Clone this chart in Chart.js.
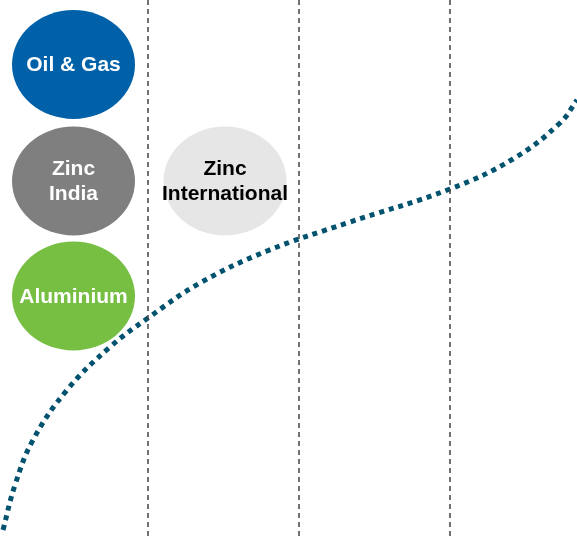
<!DOCTYPE html>
<html lang="en">
<head>
  <meta charset="UTF-8" />
  <title>Portfolio curve</title>
  <script src="https://cdn.jsdelivr.net/npm/chart.js"></script>
  <style>
    html, body { margin: 0; padding: 0; background: #fff; }
    .wrap { width: 577px; height: 537px; }
  </style>
</head>
<body>
<div class="wrap"><canvas id="chart"></canvas></div>
<script>
// curve points (x along the plot, y measured from top)
const curveX = [3, 15, 33, 67, 110, 148, 200, 267, 347, 450, 513, 560, 577];
const curveY = [530, 485, 440, 390, 347, 318, 283, 251, 223, 189, 159, 123, 100];

// dashed dividers
const dividerX = [148, 299, 450];

// bubbles
const bubbleLabels = [["Oil & Gas"], ["Zinc", "India"], ["Aluminium"], ["Zinc", "International"]];
const bubbleX = [73.5, 73.5, 73.5, 225];
const bubbleY = [64.5, 181, 296, 181];
const bubbleColors = ["#0061a9", "#7f7f7f", "#77bf43", "#e6e6e6"];
const bubbleText = ["#ffffff", "#ffffff", "#ffffff", "#000000"];

const datasets = [];
dividerX.forEach(x => {
  datasets.push({
    data: [{ x: x, y: 0 }, { x: x, y: 537 }],
    borderColor: "#444",
    borderWidth: 1.5,
    borderDash: [5, 4],
    pointRadius: 0,
    showLine: true
  });
});
datasets.push({
  data: curveX.map((x, i) => ({ x: x, y: curveY[i] })),
  borderColor: "#00526e",
  borderWidth: 5,
  borderDash: [5, 5],
  borderCapStyle: "butt",
  tension: 0.4,
  pointRadius: 0,
  showLine: true,
  clip: false
});

const bubbles = {
  id: "bubbles",
  afterDatasetsDraw(chart) {
    const { ctx, scales: { x, y } } = chart;
    bubbleLabels.forEach((lines, i) => {
      const cx = x.getPixelForValue(bubbleX[i]);
      const cy = y.getPixelForValue(bubbleY[i]);
      ctx.save();
      ctx.fillStyle = bubbleColors[i];
      ctx.beginPath();
      ctx.ellipse(cx, cy, 61.5, 54.5, 0, 0, Math.PI * 2);
      ctx.fill();
      ctx.fillStyle = bubbleText[i];
      ctx.font = "bold 21px 'Liberation Sans', Arial, sans-serif";
      ctx.textAlign = "center";
      ctx.textBaseline = "middle";
      const lh = 25;
      lines.forEach((t, j) => {
        ctx.fillText(t, cx, cy + (j - (lines.length - 1) / 2) * lh + 1);
      });
      ctx.restore();
    });
  }
};

new Chart(document.getElementById("chart"), {
  type: "scatter",
  data: { datasets },
  options: {
    responsive: true,
    maintainAspectRatio: false,
    animation: false,
    layout: { padding: 0 },
    plugins: { legend: { display: false }, tooltip: { enabled: false } },
    scales: {
      x: { type: "linear", min: 0, max: 577, display: false },
      y: { type: "linear", min: 0, max: 537, reverse: true, display: false }
    }
  },
  plugins: [bubbles]
});
</script>
</body>
</html>
